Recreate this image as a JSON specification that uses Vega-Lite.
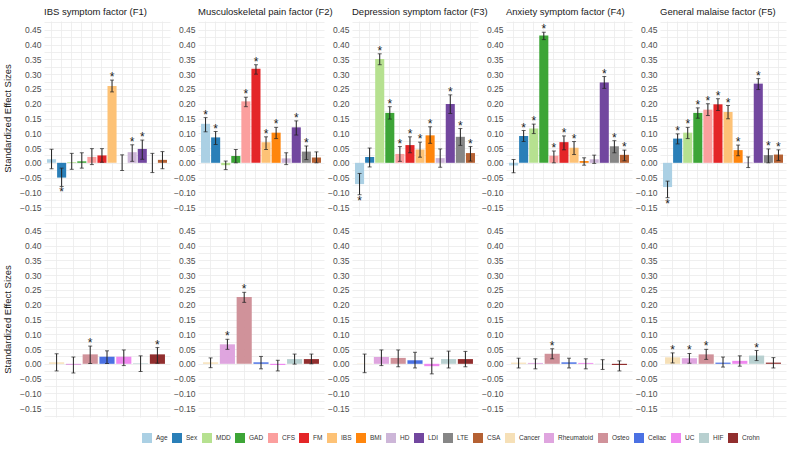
{
  "$schema": "https://vega.github.io/schema/vega-lite/v6.json",
  "background": "white",
  "padding": {"left": 2, "top": 6, "right": 2, "bottom": 2},
  "config": {"view": {"stroke": null}, "font": "Liberation Sans"},
  "data": {"values": [
    {"row":1,"factor":"IBS symptom factor (F1)","predictor":"Age","est":0.012,"lo":-0.02,"hi":0.046,"sig":0},
    {"row":1,"factor":"IBS symptom factor (F1)","predictor":"Sex","est":-0.05,"lo":-0.08,"hi":-0.018,"sig":1},
    {"row":1,"factor":"IBS symptom factor (F1)","predictor":"MDD","est":0.003,"lo":-0.022,"hi":0.032,"sig":0},
    {"row":1,"factor":"IBS symptom factor (F1)","predictor":"GAD","est":0.005,"lo":-0.018,"hi":0.034,"sig":0},
    {"row":1,"factor":"IBS symptom factor (F1)","predictor":"CFS","est":0.02,"lo":-0.006,"hi":0.048,"sig":0},
    {"row":1,"factor":"IBS symptom factor (F1)","predictor":"FM","est":0.025,"lo":0.002,"hi":0.048,"sig":0},
    {"row":1,"factor":"IBS symptom factor (F1)","predictor":"IBS","est":0.26,"lo":0.24,"hi":0.28,"sig":1},
    {"row":1,"factor":"IBS symptom factor (F1)","predictor":"BMI","est":0.0,"lo":-0.026,"hi":0.027,"sig":0},
    {"row":1,"factor":"IBS symptom factor (F1)","predictor":"HD","est":0.036,"lo":0.005,"hi":0.061,"sig":1},
    {"row":1,"factor":"IBS symptom factor (F1)","predictor":"LDI","est":0.047,"lo":0.012,"hi":0.077,"sig":1},
    {"row":1,"factor":"IBS symptom factor (F1)","predictor":"LTE","est":0.0,"lo":-0.033,"hi":0.032,"sig":0},
    {"row":1,"factor":"IBS symptom factor (F1)","predictor":"CSA","est":0.01,"lo":-0.02,"hi":0.038,"sig":0},

    {"row":1,"factor":"Musculoskeletal pain factor (F2)","predictor":"Age","est":0.132,"lo":0.105,"hi":0.153,"sig":1},
    {"row":1,"factor":"Musculoskeletal pain factor (F2)","predictor":"Sex","est":0.086,"lo":0.062,"hi":0.106,"sig":1},
    {"row":1,"factor":"Musculoskeletal pain factor (F2)","predictor":"MDD","est":-0.008,"lo":-0.023,"hi":0.006,"sig":0},
    {"row":1,"factor":"Musculoskeletal pain factor (F2)","predictor":"GAD","est":0.023,"lo":0.0,"hi":0.045,"sig":0},
    {"row":1,"factor":"Musculoskeletal pain factor (F2)","predictor":"CFS","est":0.208,"lo":0.19,"hi":0.222,"sig":1},
    {"row":1,"factor":"Musculoskeletal pain factor (F2)","predictor":"FM","est":0.318,"lo":0.3,"hi":0.332,"sig":1},
    {"row":1,"factor":"Musculoskeletal pain factor (F2)","predictor":"IBS","est":0.07,"lo":0.045,"hi":0.088,"sig":1},
    {"row":1,"factor":"Musculoskeletal pain factor (F2)","predictor":"BMI","est":0.102,"lo":0.082,"hi":0.12,"sig":1},
    {"row":1,"factor":"Musculoskeletal pain factor (F2)","predictor":"HD","est":0.015,"lo":-0.006,"hi":0.034,"sig":0},
    {"row":1,"factor":"Musculoskeletal pain factor (F2)","predictor":"LDI","est":0.12,"lo":0.094,"hi":0.142,"sig":1},
    {"row":1,"factor":"Musculoskeletal pain factor (F2)","predictor":"LTE","est":0.038,"lo":0.011,"hi":0.057,"sig":1},
    {"row":1,"factor":"Musculoskeletal pain factor (F2)","predictor":"CSA","est":0.018,"lo":0.0,"hi":0.037,"sig":0},

    {"row":1,"factor":"Depression symptom factor (F3)","predictor":"Age","est":-0.072,"lo":-0.108,"hi":-0.036,"sig":1},
    {"row":1,"factor":"Depression symptom factor (F3)","predictor":"Sex","est":0.02,"lo":-0.014,"hi":0.05,"sig":0},
    {"row":1,"factor":"Depression symptom factor (F3)","predictor":"MDD","est":0.351,"lo":0.332,"hi":0.369,"sig":1},
    {"row":1,"factor":"Depression symptom factor (F3)","predictor":"GAD","est":0.169,"lo":0.148,"hi":0.19,"sig":1},
    {"row":1,"factor":"Depression symptom factor (F3)","predictor":"CFS","est":0.03,"lo":0.005,"hi":0.055,"sig":1},
    {"row":1,"factor":"Depression symptom factor (F3)","predictor":"FM","est":0.06,"lo":0.034,"hi":0.088,"sig":1},
    {"row":1,"factor":"Depression symptom factor (F3)","predictor":"IBS","est":0.045,"lo":0.019,"hi":0.07,"sig":1},
    {"row":1,"factor":"Depression symptom factor (F3)","predictor":"BMI","est":0.093,"lo":0.066,"hi":0.122,"sig":1},
    {"row":1,"factor":"Depression symptom factor (F3)","predictor":"HD","est":0.016,"lo":-0.015,"hi":0.047,"sig":0},
    {"row":1,"factor":"Depression symptom factor (F3)","predictor":"LDI","est":0.199,"lo":0.167,"hi":0.23,"sig":1},
    {"row":1,"factor":"Depression symptom factor (F3)","predictor":"LTE","est":0.088,"lo":0.059,"hi":0.116,"sig":1},
    {"row":1,"factor":"Depression symptom factor (F3)","predictor":"CSA","est":0.033,"lo":0.006,"hi":0.055,"sig":1},

    {"row":1,"factor":"Anxiety symptom factor (F4)","predictor":"Age","est":-0.009,"lo":-0.034,"hi":0.011,"sig":0},
    {"row":1,"factor":"Anxiety symptom factor (F4)","predictor":"Sex","est":0.091,"lo":0.072,"hi":0.109,"sig":1},
    {"row":1,"factor":"Anxiety symptom factor (F4)","predictor":"MDD","est":0.116,"lo":0.099,"hi":0.131,"sig":1},
    {"row":1,"factor":"Anxiety symptom factor (F4)","predictor":"GAD","est":0.431,"lo":0.417,"hi":0.442,"sig":1},
    {"row":1,"factor":"Anxiety symptom factor (F4)","predictor":"CFS","est":0.024,"lo":0.0,"hi":0.04,"sig":1},
    {"row":1,"factor":"Anxiety symptom factor (F4)","predictor":"FM","est":0.07,"lo":0.044,"hi":0.091,"sig":1},
    {"row":1,"factor":"Anxiety symptom factor (F4)","predictor":"IBS","est":0.051,"lo":0.028,"hi":0.072,"sig":1},
    {"row":1,"factor":"Anxiety symptom factor (F4)","predictor":"BMI","est":0.006,"lo":-0.008,"hi":0.017,"sig":0},
    {"row":1,"factor":"Anxiety symptom factor (F4)","predictor":"HD","est":0.012,"lo":-0.002,"hi":0.026,"sig":0},
    {"row":1,"factor":"Anxiety symptom factor (F4)","predictor":"LDI","est":0.272,"lo":0.252,"hi":0.292,"sig":1},
    {"row":1,"factor":"Anxiety symptom factor (F4)","predictor":"LTE","est":0.056,"lo":0.034,"hi":0.075,"sig":1},
    {"row":1,"factor":"Anxiety symptom factor (F4)","predictor":"CSA","est":0.027,"lo":0.007,"hi":0.043,"sig":1},

    {"row":1,"factor":"General malaise factor (F5)","predictor":"Age","est":-0.082,"lo":-0.118,"hi":-0.062,"sig":1},
    {"row":1,"factor":"General malaise factor (F5)","predictor":"Sex","est":0.082,"lo":0.064,"hi":0.098,"sig":1},
    {"row":1,"factor":"General malaise factor (F5)","predictor":"MDD","est":0.102,"lo":0.082,"hi":0.12,"sig":1},
    {"row":1,"factor":"General malaise factor (F5)","predictor":"GAD","est":0.169,"lo":0.151,"hi":0.186,"sig":1},
    {"row":1,"factor":"General malaise factor (F5)","predictor":"CFS","est":0.18,"lo":0.16,"hi":0.2,"sig":1},
    {"row":1,"factor":"General malaise factor (F5)","predictor":"FM","est":0.198,"lo":0.177,"hi":0.217,"sig":1},
    {"row":1,"factor":"General malaise factor (F5)","predictor":"IBS","est":0.172,"lo":0.149,"hi":0.194,"sig":1},
    {"row":1,"factor":"General malaise factor (F5)","predictor":"BMI","est":0.043,"lo":0.024,"hi":0.06,"sig":1},
    {"row":1,"factor":"General malaise factor (F5)","predictor":"HD","est":0.002,"lo":-0.016,"hi":0.02,"sig":0},
    {"row":1,"factor":"General malaise factor (F5)","predictor":"LDI","est":0.268,"lo":0.248,"hi":0.285,"sig":1},
    {"row":1,"factor":"General malaise factor (F5)","predictor":"LTE","est":0.026,"lo":0.0,"hi":0.047,"sig":1},
    {"row":1,"factor":"General malaise factor (F5)","predictor":"CSA","est":0.028,"lo":0.008,"hi":0.044,"sig":1},

    {"row":2,"factor":"IBS symptom factor (F1)","predictor":"Cancer","est":0.005,"lo":-0.024,"hi":0.034,"sig":0},
    {"row":2,"factor":"IBS symptom factor (F1)","predictor":"Rheumatoid","est":-0.004,"lo":-0.031,"hi":0.023,"sig":0},
    {"row":2,"factor":"IBS symptom factor (F1)","predictor":"Osteo","est":0.032,"lo":0.001,"hi":0.06,"sig":1},
    {"row":2,"factor":"IBS symptom factor (F1)","predictor":"Celiac","est":0.024,"lo":0.001,"hi":0.044,"sig":0},
    {"row":2,"factor":"IBS symptom factor (F1)","predictor":"UC","est":0.024,"lo":-0.006,"hi":0.047,"sig":0},
    {"row":2,"factor":"IBS symptom factor (F1)","predictor":"HIF","est":0.002,"lo":-0.026,"hi":0.027,"sig":0},
    {"row":2,"factor":"IBS symptom factor (F1)","predictor":"Crohn","est":0.032,"lo":0.002,"hi":0.055,"sig":1},

    {"row":2,"factor":"Musculoskeletal pain factor (F2)","predictor":"Cancer","est":0.005,"lo":-0.013,"hi":0.02,"sig":0},
    {"row":2,"factor":"Musculoskeletal pain factor (F2)","predictor":"Rheumatoid","est":0.066,"lo":0.049,"hi":0.083,"sig":1},
    {"row":2,"factor":"Musculoskeletal pain factor (F2)","predictor":"Osteo","est":0.226,"lo":0.208,"hi":0.242,"sig":1},
    {"row":2,"factor":"Musculoskeletal pain factor (F2)","predictor":"Celiac","est":0.005,"lo":-0.017,"hi":0.025,"sig":0},
    {"row":2,"factor":"Musculoskeletal pain factor (F2)","predictor":"UC","est":-0.004,"lo":-0.024,"hi":0.012,"sig":0},
    {"row":2,"factor":"Musculoskeletal pain factor (F2)","predictor":"HIF","est":0.016,"lo":-0.001,"hi":0.033,"sig":0},
    {"row":2,"factor":"Musculoskeletal pain factor (F2)","predictor":"Crohn","est":0.016,"lo":0.0,"hi":0.033,"sig":0},

    {"row":2,"factor":"Depression symptom factor (F3)","predictor":"Cancer","est":0.001,"lo":-0.03,"hi":0.033,"sig":0},
    {"row":2,"factor":"Depression symptom factor (F3)","predictor":"Rheumatoid","est":0.023,"lo":-0.006,"hi":0.047,"sig":0},
    {"row":2,"factor":"Depression symptom factor (F3)","predictor":"Osteo","est":0.02,"lo":-0.01,"hi":0.047,"sig":0},
    {"row":2,"factor":"Depression symptom factor (F3)","predictor":"Celiac","est":0.012,"lo":-0.014,"hi":0.039,"sig":0},
    {"row":2,"factor":"Depression symptom factor (F3)","predictor":"UC","est":-0.008,"lo":-0.034,"hi":0.019,"sig":0},
    {"row":2,"factor":"Depression symptom factor (F3)","predictor":"HIF","est":0.016,"lo":-0.014,"hi":0.043,"sig":0},
    {"row":2,"factor":"Depression symptom factor (F3)","predictor":"Crohn","est":0.016,"lo":-0.01,"hi":0.042,"sig":0},

    {"row":2,"factor":"Anxiety symptom factor (F4)","predictor":"Cancer","est":0.004,"lo":-0.014,"hi":0.019,"sig":0},
    {"row":2,"factor":"Anxiety symptom factor (F4)","predictor":"Rheumatoid","est":0.003,"lo":-0.017,"hi":0.017,"sig":0},
    {"row":2,"factor":"Anxiety symptom factor (F4)","predictor":"Osteo","est":0.034,"lo":0.017,"hi":0.051,"sig":1},
    {"row":2,"factor":"Anxiety symptom factor (F4)","predictor":"Celiac","est":0.005,"lo":-0.014,"hi":0.019,"sig":0},
    {"row":2,"factor":"Anxiety symptom factor (F4)","predictor":"UC","est":0.003,"lo":-0.017,"hi":0.017,"sig":0},
    {"row":2,"factor":"Anxiety symptom factor (F4)","predictor":"HIF","est":-0.001,"lo":-0.019,"hi":0.014,"sig":0},
    {"row":2,"factor":"Anxiety symptom factor (F4)","predictor":"Crohn","est":-0.004,"lo":-0.024,"hi":0.01,"sig":0},

    {"row":2,"factor":"General malaise factor (F5)","predictor":"Cancer","est":0.022,"lo":0.003,"hi":0.037,"sig":1},
    {"row":2,"factor":"General malaise factor (F5)","predictor":"Rheumatoid","est":0.019,"lo":0.002,"hi":0.035,"sig":1},
    {"row":2,"factor":"General malaise factor (F5)","predictor":"Osteo","est":0.032,"lo":0.015,"hi":0.049,"sig":1},
    {"row":2,"factor":"General malaise factor (F5)","predictor":"Celiac","est":0.004,"lo":-0.011,"hi":0.023,"sig":0},
    {"row":2,"factor":"General malaise factor (F5)","predictor":"UC","est":0.01,"lo":-0.008,"hi":0.027,"sig":0},
    {"row":2,"factor":"General malaise factor (F5)","predictor":"HIF","est":0.028,"lo":0.011,"hi":0.045,"sig":1},
    {"row":2,"factor":"General malaise factor (F5)","predictor":"Crohn","est":0.004,"lo":-0.014,"hi":0.021,"sig":0}
  ]},
  "facet": {
    "row": {"field": "row", "type": "ordinal", "header": {"title": null, "labelExpr": "'Standardized Effect Sizes'", "labelAngle": -90, "labelOrient": "left", "labelFontSize": 9.5, "labelColor": "#1a1a1a", "labelPadding": 2}},
    "column": {"field": "factor", "type": "nominal",
      "sort": ["IBS symptom factor (F1)", "Musculoskeletal pain factor (F2)", "Depression symptom factor (F3)", "Anxiety symptom factor (F4)", "General malaise factor (F5)"],
      "header": {"title": null, "labelAnchor": "start", "labelFontSize": 9.5, "labelColor": "#1a1a1a", "labelPadding": 5}}
  },
  "spacing": {"row": 6, "column": 3},
  "resolve": {"scale": {"x": "independent", "y": "independent"}, "axis": {"x": "independent", "y": "independent"}},
  "spec": {
    "width": 126,
    "height": 195,
    "encoding": {
      "x": {"field": "predictor", "type": "nominal",
        "sort": ["Age","Sex","MDD","GAD","CFS","FM","IBS","BMI","HD","LDI","LTE","CSA","Cancer","Rheumatoid","Osteo","Celiac","UC","HIF","Crohn"],
        "scale": {"paddingInner": 0.1, "paddingOuter": 0.3},
        "axis": {"title": null, "labels": false, "ticks": false, "domain": false, "grid": true, "gridColor": "#ebebeb", "gridWidth": 0.8, "bandPosition": 0.5}},
      "y": {"field": "est", "type": "quantitative", "scale": {"domain": [-0.18, 0.48], "nice": false, "zero": false},
        "axis": {"title": null, "orient": "left", "ticks": false, "domain": false, "grid": true, "labels": true,
          "values": [-0.175,-0.15,-0.125,-0.1,-0.075,-0.05,-0.025,0,0.025,0.05,0.075,0.1,0.125,0.15,0.175,0.2,0.225,0.25,0.275,0.3,0.325,0.35,0.375,0.4,0.425,0.45,0.475],
          "format": ".2f",
          "labelExpr": "abs(round(datum.value * 1000)) % 50 == 0 ? datum.label : ''",
          "labelFontSize": 8.5, "labelColor": "#4d4d4d", "labelPadding": 3,
          "gridColor": "#ebebeb", "gridWidth": 0.8}}
    },
    "layer": [
      {"mark": {"type": "bar", "opacity": 0.95},
       "encoding": {
         "color": {"field": "predictor", "type": "nominal",
           "scale": {"domain": ["Age","Sex","MDD","GAD","CFS","FM","IBS","BMI","HD","LDI","LTE","CSA","Cancer","Rheumatoid","Osteo","Celiac","UC","HIF","Crohn"],
             "range": ["#a6cee3","#1f78b4","#b2df8a","#33a02c","#fb9a99","#e31a1c","#fdbf6f","#ff7f00","#cab2d6","#6a3d9a","#808080","#b15928","#f5deb3","#dda0dd","#cd8c95","#4169e1","#ee82ee","#b4cdcd","#8b2323"]},
           "legend": {"title": null, "orient": "none", "legendX": 98, "legendY": 412, "direction": "horizontal", "symbolType": "square", "symbolSize": 100, "symbolStrokeWidth": 0, "labelFontSize": 6.5, "labelColor": "#333333", "columnPadding": 4, "labelOffset": 4}}
       }},
      {"mark": {"type": "rule", "color": "#222222", "strokeWidth": 1},
       "encoding": {"y": {"field": "lo", "type": "quantitative"}, "y2": {"field": "hi"}}},
      {"mark": {"type": "tick", "color": "#222222", "size": 4, "thickness": 1},
       "encoding": {"y": {"field": "lo", "type": "quantitative"}}},
      {"mark": {"type": "tick", "color": "#222222", "size": 4, "thickness": 1},
       "encoding": {"y": {"field": "hi", "type": "quantitative"}}},
      {"transform": [{"filter": "datum.sig == 1 && datum.est >= 0"}],
       "mark": {"type": "text", "text": "*", "fontSize": 12, "color": "#222222", "baseline": "alphabetic", "dy": 1},
       "encoding": {"y": {"field": "hi", "type": "quantitative"}}},
      {"transform": [{"filter": "datum.sig == 1 && datum.est < 0"}],
       "mark": {"type": "text", "text": "*", "fontSize": 12, "color": "#222222", "baseline": "alphabetic", "dy": 10},
       "encoding": {"y": {"field": "lo", "type": "quantitative"}}}
    ]
  }
}
